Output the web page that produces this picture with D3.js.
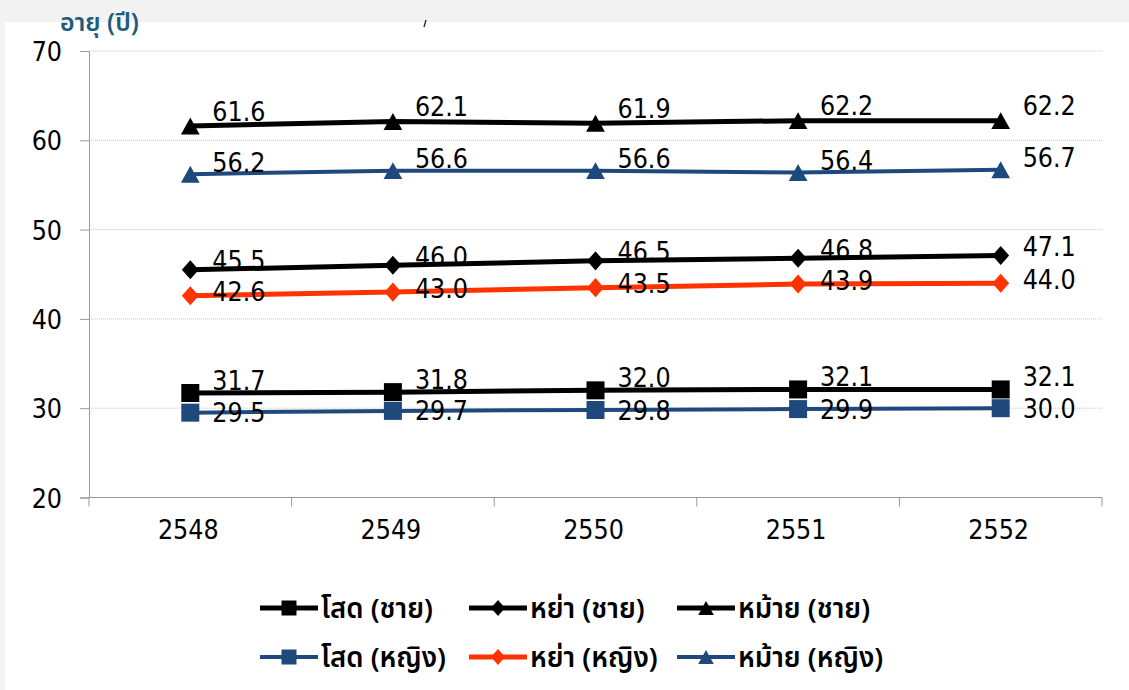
<!DOCTYPE html>
<html>
<head>
<meta charset="utf-8">
<script src="https://cdn.jsdelivr.net/npm/d3@7"></script>
<style>
  html, body { margin: 0; padding: 0; background: #f2f2f2; }
  svg { display: block; }
</style>
</head>
<body>
<svg id="chart" width="1129" height="690"></svg>
<script>
// Years (Buddhist era) on the category axis
const years = ["2548", "2549", "2550", "2551", "2552"];

// Average age (years) by marital status and sex
const singleMale     = [31.7, 31.8, 32.0, 32.1, 32.1];
const divorcedMale   = [45.5, 46.0, 46.5, 46.8, 47.1];
const widowedMale    = [61.6, 62.1, 61.9, 62.2, 62.2];
const singleFemale   = [29.5, 29.7, 29.8, 29.9, 30.0];
const divorcedFemale = [42.6, 43.0, 43.5, 43.9, 44.0];
const widowedFemale  = [56.2, 56.6, 56.6, 56.4, 56.7];

const yTicks = [20, 30, 40, 50, 60, 70];

const seriesNames = [
  "โสด (ชาย)", "หย่า (ชาย)", "หม้าย (ชาย)",
  "โสด (หญิง)", "หย่า (หญิง)", "หม้าย (หญิง)"
];

const BLACK = "#000000", BLUE = "#1f497d", RED = "#ff3300";

const series = [
  { name: seriesNames[0], values: singleMale,     color: BLACK, marker: "square",   width: 5, dy: -13 },
  { name: seriesNames[1], values: divorcedMale,   color: BLACK, marker: "diamond",  width: 5, dy: -9 },
  { name: seriesNames[2], values: widowedMale,    color: BLACK, marker: "triangle", width: 5, dy: -15 },
  { name: seriesNames[3], values: singleFemale,   color: BLUE,  marker: "square",   width: 4, dy: 0 },
  { name: seriesNames[4], values: divorcedFemale, color: RED,   marker: "diamond",  width: 5, dy: -4 },
  { name: seriesNames[5], values: widowedFemale,  color: BLUE,  marker: "triangle", width: 4, dy: -12 }
];

const NUM_FONT = "'DejaVu Sans Condensed', 'DejaVu Sans', sans-serif";
const THAI_FONT = "'Noto Sans Thai', 'Noto Sans', 'DejaVu Sans', sans-serif";

const svg = d3.select("#chart");

// white chart panel below the grey header strip
svg.append("rect").attr("x", 5).attr("y", 22).attr("width", 1124).attr("height", 668).attr("fill", "#ffffff");

const plot = { left: 89, right: 1102, top: 51, bottom: 497.5 };

const x = d3.scaleBand().domain(years).range([plot.left, plot.right]);
const y = d3.scaleLinear().domain([20, 70]).range([plot.bottom, plot.top]);
const cx = d => x(d) + x.bandwidth() / 2;

// unit title
svg.append("text").attr("x", 60).attr("y", 31)
  .attr("font-family", THAI_FONT).attr("font-size", 25).attr("font-weight", 600)
  .attr("fill", "#1f5b7a").text("อายุ (ปี)");
svg.append("line").attr("x1", 426).attr("y1", 20).attr("x2", 424).attr("y2", 27)
  .attr("stroke", "#222").attr("stroke-width", 1.3);

// horizontal gridlines
svg.append("g").selectAll("line").data(yTicks.filter(t => t > 20)).join("line")
  .attr("x1", plot.left).attr("x2", plot.right)
  .attr("y1", d => y(d)).attr("y2", d => y(d))
  .attr("stroke", "#c8c8c8").attr("stroke-width", 1).attr("stroke-dasharray", "1,1");

// y axis
const yAxis = svg.append("g").attr("transform", `translate(${plot.left},0)`)
  .call(d3.axisLeft(y).tickValues(yTicks).tickSize(9).tickPadding(18).tickFormat(d3.format("d")));
yAxis.select(".domain").attr("stroke", "#999");
yAxis.selectAll(".tick line").attr("stroke", "#999");
yAxis.selectAll(".tick text").attr("font-family", NUM_FONT).attr("font-size", 26.5).attr("fill", "#000").attr("dy", "0.36em");

// x axis with ticks between categories
const xAxisG = svg.append("g").attr("transform", `translate(0,${plot.bottom})`);
xAxisG.append("line").attr("x1", plot.left).attr("x2", plot.right).attr("stroke", "#999");
const bounds = years.map(d => x(d)).concat([plot.right]);
xAxisG.selectAll("line.tk").data(bounds).join("line").attr("class", "tk")
  .attr("x1", d => d).attr("x2", d => d).attr("y1", 0).attr("y2", 9).attr("stroke", "#999");
xAxisG.selectAll("text").data(years).join("text")
  .attr("x", d => cx(d) - 2).attr("y", 41).attr("text-anchor", "middle")
  .attr("font-family", NUM_FONT).attr("font-size", 26.5).attr("fill", "#000").text(d => d);

// marker path generators, centred on the point
function markerPath(type, s) {
  if (type === "square") {
    const h = s / 2;
    return `M${-h},${-h}H${h}V${h}H${-h}Z`;
  }
  if (type === "diamond") {
    const w = s * 0.47, h = s * 0.53;
    return `M0,${-h}L${w},0L0,${h}L${-w},0Z`;
  }
  const w = s * 0.52, h = s * 0.47;
  return `M0,${-h}L${w},${h}L${-w},${h}Z`;
}

const line = d3.line().x((d, i) => cx(years[i])).y(d => y(d));

series.forEach(s => {
  const g = svg.append("g");
  g.append("path").datum(s.values).attr("d", line)
    .attr("fill", "none").attr("stroke", s.color).attr("stroke-width", s.width);
  g.selectAll("path.m").data(s.values).join("path").attr("class", "m")
    .attr("transform", (d, i) => `translate(${cx(years[i])},${y(d)})`)
    .attr("d", markerPath(s.marker, 18)).attr("fill", s.color);
});

// value labels
series.forEach(s => {
  svg.append("g").selectAll("text").data(s.values).join("text")
    .attr("x", (d, i) => cx(years[i]) + 22)
    .attr("y", d => y(d) + s.dy)
    .attr("dy", "0.36em")
    .attr("font-family", NUM_FONT).attr("font-size", 26.5).attr("fill", "#000")
    .text(d => d3.format(".1f")(d));
});

// legend: two rows of three
const legendCols = [260, 469, 677];
const legendRows = [608, 657];
series.forEach((s, i) => {
  const lx = legendCols[i % 3], ly = legendRows[Math.floor(i / 3)];
  const g = svg.append("g").attr("transform", `translate(${lx},${ly})`);
  g.append("line").attr("x1", 0).attr("x2", 58).attr("stroke", s.color).attr("stroke-width", s.width);
  g.append("path").attr("transform", "translate(29,0)").attr("d", markerPath(s.marker, 15)).attr("fill", s.color);
  g.append("text").attr("x", 61).attr("dy", "0.35em")
    .attr("font-family", THAI_FONT).attr("font-size", 27.5).attr("font-weight", 600)
    .attr("fill", "#000").text(s.name);
});
</script>
</body>
</html>
